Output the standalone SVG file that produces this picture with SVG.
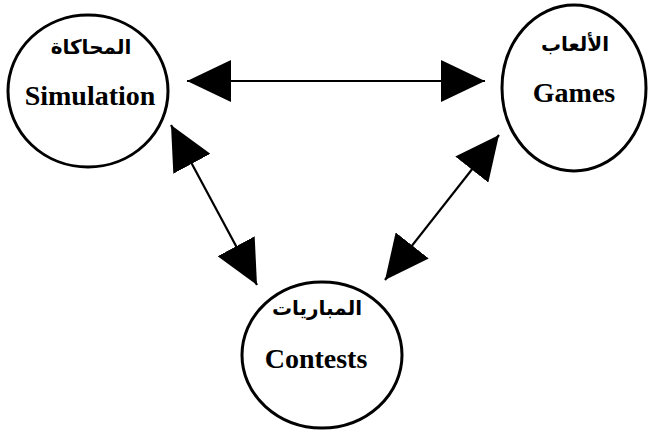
<svg xmlns="http://www.w3.org/2000/svg" width="650" height="431" viewBox="0 0 650 431">
<style>
.node{fill:#fff;stroke:#000;stroke-width:3}
.en{font-family:"Liberation Serif","Times New Roman",serif;font-weight:bold;font-size:28px;text-anchor:middle;fill:#000}
.ar{font-family:"DejaVu Sans","Noto Sans",sans-serif;font-weight:bold;font-size:20px;text-anchor:middle;fill:#000}
.conn{stroke:#000;stroke-width:2.2;fill:none;marker-start:url(#ah);marker-end:url(#ah)}
</style>
<defs>
<marker id="ah" markerUnits="userSpaceOnUse" markerWidth="44" markerHeight="42" refX="44" refY="21" orient="auto-start-reverse" viewBox="0 0 44 42">
<path d="M0,0 L44,21 L0,42 z" fill="#000"/>
</marker>
</defs>
<rect width="650" height="431" fill="#fff"/>
<g id="connectors">
<line class="conn" x1="187" y1="81" x2="485" y2="81"/>
<line class="conn" x1="171" y1="125" x2="257" y2="285"/>
<line class="conn" x1="499" y1="135" x2="385" y2="280"/>
</g>
<g id="simulation">
<ellipse class="node" cx="88" cy="91" rx="80" ry="76"/>
<text class="ar" x="91" y="54">المحاكاة</text>
<text class="en" x="90" y="105">Simulation</text>
</g>
<g id="games">
<ellipse class="node" cx="574" cy="88" rx="72" ry="83"/>
<text class="ar" x="575" y="51">الألعاب</text>
<text class="en" x="574" y="102">Games</text>
</g>
<g id="contests">
<ellipse class="node" cx="322" cy="355" rx="80" ry="73"/>
<text class="ar" x="317" y="315">المباريات</text>
<text class="en" x="316" y="368">Contests</text>
</g>
</svg>
